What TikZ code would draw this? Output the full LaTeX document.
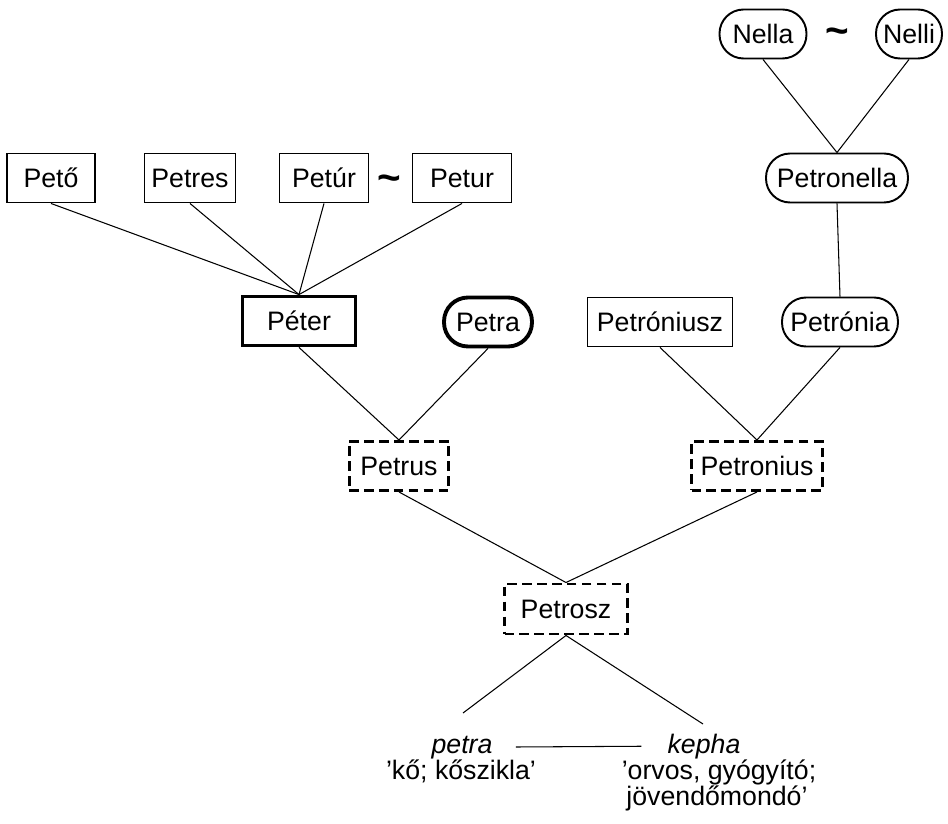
\documentclass[tikz,border=0pt]{standalone}
\usepackage{fontspec}
\setmainfont{Liberation Sans}
\usetikzlibrary{positioning}
\newcommand{\etfont}{\fontsize{15.2}{15.8}\selectfont}
\tikzset{
  et/box/.style={
    draw=black,
    line width=1.1pt,
    fill=white,
    align=center,
    text=black,
    minimum height=0.98cm,
    inner xsep=3pt,
    inner ysep=3pt,
    font=\etfont
  },
  et/main/.style={et/box, line width=2.2pt},
  et/round/.style={et/box, rounded corners=0.48cm},
  et/roundmain/.style={et/round, line width=2.2pt},
  et/latin/.style={et/box, line width=1.7pt, dash pattern=on 5.5pt off 3pt},
  et/link/.style={line width=0.6pt, draw=black},
  et/tilde/.style={font=\fontsize{23}{23}\selectfont\bfseries, inner sep=0pt},
  et/word/.style={font=\etfont\itshape, inner sep=0pt, anchor=base},
  et/gloss/.style={font=\etfont, inner sep=0pt, anchor=base}
}
\begin{document}
\begin{tikzpicture}[x=0.02cm,y=-0.02cm]
  \useasboundingbox (0,0) rectangle (948,824);
  % Hungarian names
  \node[et/box,minimum width=1.76cm] (peto) at (51,178) {Pető};
  \node[et/box,minimum width=1.82cm] (petres) at (190,178) {Petres};
  \node[et/box,minimum width=1.78cm] (petur1) at (324,178) {Petúr};
  \node[et/tilde] (tilde1) at (389,183) {\char`\~};
  \node[et/box,minimum width=1.98cm] (petur2) at (462,178) {Petur};
  \node[et/main,minimum width=2.26cm] (peter) at (299,321) {Péter};
  \node[et/roundmain,minimum width=1.76cm] (petra) at (488,322) {Petra};
  \node[et/round,minimum width=1.74cm] (nella) at (763,34) {Nella};
  \node[et/tilde] (tilde2) at (837,36.5) {\char`\~};
  \node[et/round,minimum width=1.32cm] (nelli) at (909,34) {Nelli};
  \node[et/round,minimum width=2.84cm] (petronella) at (837,178) {Petronella};
  \node[et/box,minimum width=2.9cm] (petroniusz) at (660,322) {Petróniusz};
  \node[et/round,minimum width=2.32cm] (petronia) at (840,322) {Petrónia};
  % Latin and Greek forms
  \node[et/latin,minimum width=2.0cm] (petrus) at (399,466) {Petrus};
  \node[et/latin,minimum width=2.62cm] (petronius) at (757,466) {Petronius};
  \node[et/latin,minimum width=2.46cm,minimum height=1.0cm] (petrosz) at (566,609) {Petrosz};
  \node[et/word] (wpetra) at (462,753) {petra};
  \node[et/word] (wkepha) at (704,753) {kepha};
  \node[et/gloss] (gpetra) at (461,780) {'kő; kőszikla'};
  \node[et/gloss] (gkepha1) at (719,780) {'orvos, gyógyító;};
  \node[et/gloss] (gkepha2) at (717,806) {jövendőmondó'};
  \coordinate (petratop) at (463,713);
  \coordinate (kephatop) at (703,724);

  \foreach \n in {peto,petres,petur1,petur2}
    \draw[et/link] (\n.south) -- (peter.north);
  \draw[et/link] (peter.south) -- (petrus.north);
  \draw[et/link] (petra.south) -- (petrus.north);
  \draw[et/link] (nella.south) -- (petronella.north);
  \draw[et/link] (nelli.south) -- (petronella.north);
  \draw[et/link] (petronella.south) -- (petronia.north);
  \draw[et/link] (petroniusz.south) -- (petronius.north);
  \draw[et/link] (petronia.south) -- (petronius.north);
  \draw[et/link] (petrus.south) -- (petrosz.north);
  \draw[et/link] (petronius.south) -- (petrosz.north);
  \draw[et/link] (petrosz.south) -- (petratop);
  \draw[et/link] (petrosz.south) -- (kephatop);
  \draw[et/link,shorten <=0.46cm,shorten >=0.52cm] (wpetra.east) -- (wkepha.west);
\end{tikzpicture}
\end{document}
